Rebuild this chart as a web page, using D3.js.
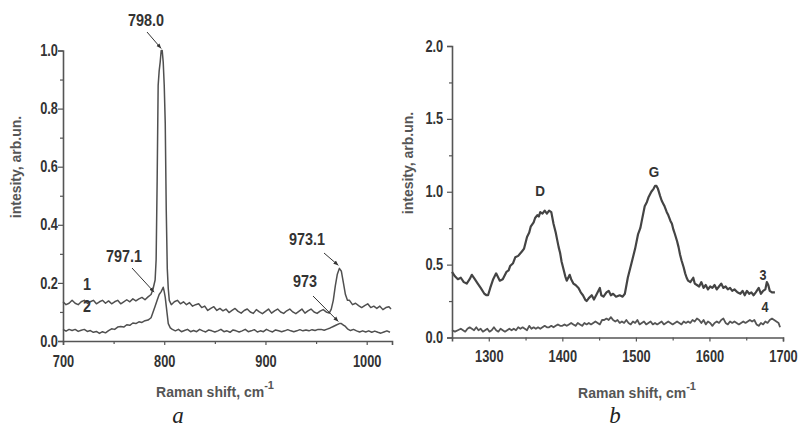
<!DOCTYPE html>
<html>
<head>
<meta charset="utf-8">
<script src="https://cdn.jsdelivr.net/npm/d3@7"></script>
<style>
  html, body { margin: 0; padding: 0; background: #fff; }
  svg { display: block; }
  .tk text { font-family: "Liberation Sans Narrow", "Arial Narrow", "Liberation Sans", Arial, sans-serif; font-weight: bold; fill: #333; }
  .lbl { font-family: "Liberation Sans Narrow", "Arial Narrow", "Liberation Sans", Arial, sans-serif; font-weight: bold; fill: #333; }
  .ttl { font-family: "Liberation Sans", Arial, sans-serif; font-weight: bold; fill: #555; }
  .pan { font-family: "Liberation Serif", "DejaVu Serif", serif; font-style: italic; fill: #222; }
</style>
</head>
<body>
<svg id="c" width="801" height="428"></svg>
<script>
// ---------- DATA ----------
// Panel a: Raman shift (cm^-1) vs intensity
const curve1 = [
  [700,.135],[703,.125],[706,.13],[709,.14],[712,.13],[715,.125],[718,.135],[721,.14],[724,.13],[727,.135],
  [730,.14],[733,.128],[736,.135],[739,.14],[742,.13],[745,.138],[748,.128],[751,.135],[754,.14],[757,.128],
  [760,.135],[763,.142],[766,.135],[769,.145],[772,.138],[775,.145],[778,.15],[781,.142],[784,.152],[787,.16],
  [789,.18],[791,.21],[792,.28],[793,.55],[794,.88],[795,.93],[796,.96],[797,1.0],[798,1.0],[799,.96],
  [800,.88],[801,.75],[802,.45],[803,.25],[804,.18],[805,.14],[807,.125],[810,.135],[813,.14],[816,.128],
  [819,.135],[822,.125],[825,.132],[828,.12],[831,.125],[834,.128],[837,.115],[840,.12],[843,.105],[846,.112],
  [849,.118],[852,.105],[855,.112],[858,.104],[861,.11],[864,.098],[867,.105],[870,.112],[873,.102],[876,.096],
  [879,.105],[882,.11],[885,.1],[888,.095],[891,.108],[894,.1],[897,.094],[900,.102],[903,.11],[906,.096],
  [909,.104],[912,.11],[915,.1],[918,.095],[921,.104],[924,.11],[927,.1],[930,.094],[933,.102],[936,.11],
  [939,.096],[942,.104],[945,.11],[948,.1],[951,.095],[954,.103],[957,.108],[960,.1],[963,.096],[965,.11],
  [967,.14],[969,.19],[971,.23],[973,.25],[975,.24],[977,.20],[979,.16],[981,.14],[983,.14],[986,.125],
  [989,.13],[992,.122],[995,.115],[998,.122],[1001,.128],[1004,.115],[1007,.12],[1010,.112],[1013,.12],[1016,.108],
  [1019,.115],[1022,.118],[1024,.11]
];
const curve2 = [
  [700,.04],[703,.034],[706,.04],[709,.036],[712,.04],[715,.033],[718,.037],[721,.04],[724,.033],[727,.036],
  [730,.03],[733,.033],[736,.026],[739,.032],[742,.028],[745,.036],[748,.042],[751,.04],[754,.048],[757,.05],
  [760,.048],[763,.056],[766,.054],[769,.062],[772,.06],[775,.066],[778,.064],[781,.07],[784,.072],[787,.08],
  [789,.10],[791,.12],[793,.14],[795,.16],[797,.17],[799,.185],[800,.17],[801,.15],[802,.12],[803,.09],
  [804,.06],[806,.045],[808,.04],[811,.035],[814,.04],[817,.032],[820,.036],[823,.04],[826,.032],[829,.036],
  [832,.032],[835,.04],[838,.035],[841,.031],[844,.038],[847,.035],[850,.031],[853,.035],[856,.04],[859,.032],
  [862,.035],[865,.03],[868,.038],[871,.035],[874,.031],[877,.035],[880,.04],[883,.032],[886,.035],[889,.039],
  [892,.031],[895,.035],[898,.032],[901,.04],[904,.035],[907,.031],[910,.038],[913,.035],[916,.032],[919,.035],
  [922,.039],[925,.035],[928,.032],[931,.035],[934,.039],[937,.035],[940,.038],[943,.035],[946,.039],[949,.036],
  [952,.04],[955,.04],[958,.037],[961,.041],[964,.045],[967,.05],[970,.055],[973,.06],[975,.06],[977,.055],
  [979,.05],[981,.042],[984,.036],[987,.04],[990,.035],[993,.031],[996,.035],[999,.031],[1002,.035],[1005,.03],
  [1008,.034],[1011,.03],[1014,.027],[1017,.031],[1020,.035],[1023,.03]
];
// Panel b
const curve3 = [
  [1250,.45],[1254,.42],[1258,.40],[1262,.41],[1266,.38],[1270,.37],[1274,.40],[1277,.43],[1281,.40],[1285,.37],
  [1289,.34],[1294,.30],[1297,.29],[1299,.29],[1302,.34],[1306,.40],[1310,.44],[1313,.41],[1315,.39],[1319,.40],
  [1324,.45],[1327,.46],[1329,.49],[1333,.51],[1336,.55],[1340,.56],[1345,.59],[1348,.61],[1352,.69],[1355,.72],
  [1357,.76],[1361,.79],[1363,.82],[1366,.84],[1368,.83],[1370,.86],[1373,.85],[1376,.87],[1379,.85],[1382,.87],
  [1385,.86],[1388,.78],[1391,.72],[1393,.67],[1395,.62],[1397,.58],[1399,.52],[1401,.48],[1404,.42],[1406,.39],
  [1408,.41],[1410,.43],[1412,.40],[1415,.37],[1418,.36],[1422,.34],[1425,.31],[1428,.29],[1431,.26],[1433,.25],
  [1436,.27],[1440,.29],[1443,.26],[1447,.30],[1451,.34],[1453,.29],[1456,.28],[1460,.31],[1463,.32],[1466,.29],
  [1469,.30],[1473,.28],[1478,.29],[1482,.28],[1485,.30],[1489,.41],[1494,.51],[1499,.61],[1503,.71],[1506,.75],
  [1508,.80],[1512,.90],[1515,.93],[1517,.96],[1521,1.0],[1524,1.02],[1526,1.04],[1528,1.04],[1530,1.02],[1533,.97],
  [1535,.94],[1537,.92],[1539,.90],[1542,.86],[1544,.84],[1547,.80],[1549,.78],[1551,.74],[1553,.71],[1556,.66],
  [1558,.62],[1560,.57],[1562,.53],[1565,.48],[1567,.44],[1569,.41],[1571,.39],[1574,.38],[1578,.41],[1580,.37],
  [1583,.36],[1586,.35],[1589,.38],[1592,.34],[1595,.36],[1598,.33],[1601,.35],[1604,.34],[1607,.36],[1610,.33],
  [1613,.35],[1616,.37],[1619,.34],[1622,.35],[1625,.33],[1628,.34],[1631,.32],[1634,.33],[1638,.31],[1642,.30],
  [1645,.32],[1648,.29],[1651,.32],[1654,.30],[1657,.31],[1660,.29],[1663,.31],[1667,.34],[1670,.30],[1673,.32],
  [1676,.33],[1678,.38],[1680,.36],[1682,.32],[1685,.31],[1689,.31]
];
const curve4 = [
  [1250,.05],[1254,.04],[1258,.05],[1262,.06],[1265,.05],[1268,.04],[1271,.06],[1274,.07],[1277,.06],[1280,.05],
  [1283,.07],[1286,.05],[1289,.06],[1292,.04],[1295,.05],[1298,.06],[1301,.04],[1304,.05],[1307,.07],[1310,.05],
  [1313,.04],[1316,.06],[1319,.05],[1322,.04],[1325,.05],[1328,.06],[1331,.05],[1334,.06],[1337,.05],[1340,.07],
  [1343,.06],[1346,.07],[1349,.06],[1352,.05],[1355,.08],[1358,.06],[1361,.07],[1364,.06],[1367,.07],[1370,.06],
  [1373,.07],[1376,.08],[1379,.07],[1382,.07],[1385,.08],[1388,.07],[1391,.08],[1394,.09],[1397,.08],[1400,.08],
  [1403,.09],[1406,.08],[1409,.09],[1412,.10],[1415,.09],[1418,.08],[1421,.10],[1424,.09],[1427,.08],[1430,.10],
  [1433,.09],[1436,.10],[1439,.09],[1442,.10],[1445,.11],[1448,.10],[1451,.09],[1454,.12],[1457,.12],[1460,.13],
  [1463,.12],[1466,.14],[1469,.12],[1472,.11],[1475,.12],[1478,.10],[1481,.11],[1484,.10],[1487,.12],[1490,.10],
  [1493,.09],[1496,.11],[1499,.10],[1502,.12],[1505,.09],[1508,.10],[1511,.11],[1514,.09],[1517,.10],[1520,.11],
  [1523,.09],[1526,.10],[1529,.09],[1532,.10],[1535,.11],[1538,.09],[1541,.10],[1544,.11],[1547,.10],[1550,.09],
  [1553,.10],[1556,.11],[1559,.10],[1562,.09],[1565,.11],[1568,.10],[1571,.11],[1574,.10],[1577,.12],[1580,.11],
  [1583,.13],[1586,.12],[1589,.10],[1592,.12],[1595,.09],[1598,.11],[1601,.10],[1604,.08],[1607,.10],[1610,.11],
  [1613,.10],[1616,.12],[1619,.13],[1622,.10],[1625,.09],[1628,.11],[1631,.10],[1634,.11],[1637,.10],[1640,.09],
  [1643,.10],[1646,.11],[1649,.10],[1652,.11],[1655,.12],[1658,.11],[1661,.12],[1664,.09],[1667,.08],[1670,.10],
  [1673,.09],[1676,.11],[1679,.10],[1682,.12],[1685,.13],[1688,.12],[1691,.11],[1694,.10],[1696,.07]
];
const xTicksA = [700, 800, 900, 1000];
const xMinorA = [750, 850, 950];
const yTicksA = [0, 0.2, 0.4, 0.6, 0.8, 1.0];
const yMinorA = [0.1, 0.3, 0.5, 0.7, 0.9];
const xTicksB = [1300, 1400, 1500, 1600, 1700];
const xMinorB = [1350, 1450, 1550, 1650];
const yTicksB = [0, 0.5, 1.0, 1.5, 2.0];
const yMinorB = [0.25, 0.75, 1.25, 1.75];
const xDomainA = [700, 1025];
const yDomainA = [0, 1];
const xDomainB = [1250, 1700];
const yDomainB = [0, 2];
const yTitle = "intesity, arb.un.";
const xTitle = "Raman shift, cm";
const peakLabelsA = [
  {text: "798.0", at: [798, 1.0]},
  {text: "797.1", at: [797, 0.175]},
  {text: "973.1", at: [974, 0.25]},
  {text: "973", at: [974, 0.06]}
];
const curveLabelsA = ["1", "2"];
const bandLabelsB = ["D", "G"];
const curveLabelsB = ["3", "4"];
const panelLabels = ["a", "b"];

// ---------- DRAW ----------
const svg = d3.select("#c");
const defs = svg.append("defs");
defs.append("marker").attr("id", "arr").attr("viewBox", "0 0 10 10")
  .attr("refX", 10).attr("refY", 5).attr("markerWidth", 5).attr("markerHeight", 5)
  .attr("orient", "auto")
  .append("path").attr("d", "M0,1 L10,5 L0,9 Z").attr("fill", "#333");

const axisColor = "#555";
const SX = 0.8; // horizontal condensing of tick labels

function drawPanel(o) {
  const g = svg.append("g");
  const x = d3.scaleLinear().domain(o.xd).range(o.xr);
  const y = d3.scaleLinear().domain(o.yd).range(o.yr);
  const gx = g.append("g").attr("class", "tk").attr("transform", `translate(0,${o.yr[0]})`)
    .call(d3.axisBottom(x).tickValues(o.xt).tickSize(4).tickPadding(o.xpad).tickFormat(d3.format("d")));
  g.append("g").attr("transform", `translate(0,${o.yr[0]})`)
    .call(d3.axisBottom(x).tickValues(o.xm).tickSize(3).tickFormat(""))
    .call(s => s.select(".domain").remove());
  const gy = g.append("g").attr("class", "tk").attr("transform", `translate(${o.xr[0]},0)`)
    .call(d3.axisLeft(y).tickValues(o.yt).tickSize(5).tickPadding(o.ypad).tickFormat(d3.format(".1f")));
  g.append("g").attr("transform", `translate(${o.xr[0]},0)`)
    .call(d3.axisLeft(y).tickValues(o.ym).tickSize(3).tickFormat(""))
    .call(s => s.select(".domain").remove());
  g.selectAll(".domain").attr("stroke", axisColor).attr("stroke-width", 1.6);
  g.selectAll(".tick line").attr("stroke", axisColor).attr("stroke-width", 1.2);
  gx.selectAll("text").attr("font-size", o.fs).attr("fill", "#333").attr("transform", `scale(${SX},1)`);
  gy.selectAll("text").attr("font-size", o.fs).attr("fill", "#333").attr("transform", `scale(${SX},1)`);
  const line = d3.line().x(d => x(d[0])).y(d => y(d[1]));
  o.curves.forEach(c => {
    g.append("path").datum(c.data).attr("d", line).attr("fill", "none")
      .attr("stroke", c.color).attr("stroke-width", c.w).attr("stroke-linejoin", "round");
  });
  g.append("text").attr("class", "ttl")
    .attr("transform", `translate(${o.ytx},${o.yty}) rotate(-90)`)
    .attr("text-anchor", "middle").attr("font-size", 14).text(yTitle);
  const xt = g.append("text").attr("class", "ttl").attr("x", o.xtx).attr("y", o.xty)
    .attr("text-anchor", "middle").attr("font-size", 14);
  xt.append("tspan").text(xTitle);
  xt.append("tspan").attr("dy", -8).attr("font-size", 11).text("-1");
  g.append("text").attr("class", "pan").attr("x", o.px).attr("y", o.py)
    .attr("text-anchor", "middle").attr("font-size", 23).text(o.pl);
  return {g, x, y};
}

const A = drawPanel({
  xd: xDomainA, yd: yDomainA, xr: [63, 392], yr: [341, 50.5],
  xt: xTicksA, xm: xMinorA, yt: yTicksA, ym: yMinorA,
  xpad: 11, ypad: 1.3, fs: 16,
  curves: [{data: curve1, color: "#505050", w: 1.5}, {data: curve2, color: "#505050", w: 1.5}],
  ytx: 21, yty: 167, xtx: 215, xty: 397, px: 178, py: 422.5, pl: panelLabels[0]
});
const B = drawPanel({
  xd: xDomainB, yd: yDomainB, xr: [452, 783], yr: [337.5, 46],
  xt: xTicksB, xm: xMinorB, yt: yTicksB, ym: yMinorB,
  xpad: 9, ypad: 6, fs: 16,
  curves: [{data: curve3, color: "#444", w: 2.2}, {data: curve4, color: "#555", w: 1.8}],
  ytx: 413, yty: 163, xtx: 637, xty: 398, px: 615, py: 422.5, pl: panelLabels[1]
});

function ann(P, label, tx, ty, fromx, fromy, tox, toy, fs, sx) {
  P.g.append("text").attr("class", "lbl")
    .attr("transform", `translate(${tx},${ty}) scale(${sx || 0.9},1)`)
    .attr("text-anchor", "middle").attr("font-size", fs || 16).text(label);
  if (fromx !== undefined && fromx !== null) {
    P.g.append("line").attr("x1", fromx).attr("y1", fromy).attr("x2", tox).attr("y2", toy)
      .attr("stroke", "#333").attr("stroke-width", 1).attr("marker-end", "url(#arr)");
  }
}
const pA = peakLabelsA.map(p => [A.x(p.at[0]), A.y(p.at[1])]);
ann(A, peakLabelsA[0].text, 146, 26, 147, 32, pA[0][0] - 1, pA[0][1] - 2);
ann(A, peakLabelsA[1].text, 124, 262, 132, 268, pA[1][0] - 7, pA[1][1] + 2);
ann(A, peakLabelsA[2].text, 307, 245, 324, 253, pA[2][0] - 2, pA[2][1] - 3);
ann(A, peakLabelsA[3].text, 305, 287, 313, 296, pA[3][0] - 2, pA[3][1] - 2);
ann(A, curveLabelsA[0], 87, 290);
ann(A, curveLabelsA[1], 87, 312);
ann(B, bandLabelsB[0], 540, 196, null, 0, 0, 0, 15);
ann(B, bandLabelsB[1], 654, 177, null, 0, 0, 0, 15);
ann(B, curveLabelsB[0], 763, 280, null, 0, 0, 0, 14);
ann(B, curveLabelsB[1], 765, 312, null, 0, 0, 0, 14);
</script>
</body>
</html>
